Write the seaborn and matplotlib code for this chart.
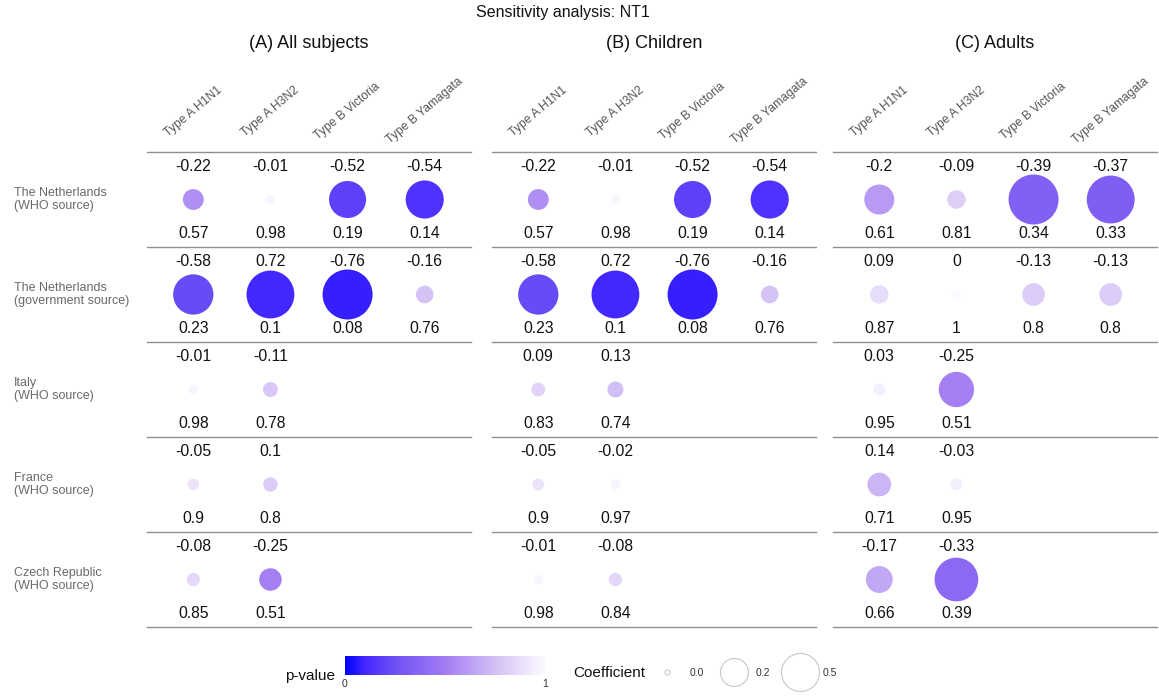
import numpy as np
import pandas as pd
import matplotlib
matplotlib.use("Agg")
import matplotlib.pyplot as plt
import seaborn as sns
from matplotlib.colors import LinearSegmentedColormap, Normalize
from matplotlib.cm import ScalarMappable
from matplotlib.lines import Line2D

# data
countries = ["The Netherlands\n(WHO source)", "The Netherlands\n(government source)",
             "Italy\n(WHO source)", "France\n(WHO source)", "Czech Republic\n(WHO source)"]
virus_types = ["Type A H1N1", "Type A H3N2", "Type B Victoria", "Type B Yamagata"]
panel_titles = ["(A) All subjects", "(B) Children", "(C) Adults"]

nan = np.nan
coef_all = [[-0.22, -0.01, -0.52, -0.54],
            [-0.58, 0.72, -0.76, -0.16],
            [-0.01, -0.11, nan, nan],
            [-0.05, 0.1, nan, nan],
            [-0.08, -0.25, nan, nan]]
p_all = [[0.57, 0.98, 0.19, 0.14],
         [0.23, 0.1, 0.08, 0.76],
         [0.98, 0.78, nan, nan],
         [0.9, 0.8, nan, nan],
         [0.85, 0.51, nan, nan]]

coef_children = [[-0.22, -0.01, -0.52, -0.54],
                 [-0.58, 0.72, -0.76, -0.16],
                 [0.09, 0.13, nan, nan],
                 [-0.05, -0.02, nan, nan],
                 [-0.01, -0.08, nan, nan]]
p_children = [[0.57, 0.98, 0.19, 0.14],
              [0.23, 0.1, 0.08, 0.76],
              [0.83, 0.74, nan, nan],
              [0.9, 0.97, nan, nan],
              [0.98, 0.84, nan, nan]]

coef_adults = [[-0.2, -0.09, -0.39, -0.37],
               [0.09, 0, -0.13, -0.13],
               [0.03, -0.25, nan, nan],
               [0.14, -0.03, nan, nan],
               [-0.17, -0.33, nan, nan]]
p_adults = [[0.61, 0.81, 0.34, 0.33],
            [0.87, 1, 0.8, 0.8],
            [0.95, 0.51, nan, nan],
            [0.71, 0.95, nan, nan],
            [0.66, 0.39, nan, nan]]

legend_coefs = ["0.0", "0.2", "0.5"]

panels = [(coef_all, p_all), (coef_children, p_children), (coef_adults, p_adults)]

plt.rcParams["font.family"] = ["Liberation Sans", "DejaVu Sans"]

W, H = 1159, 696
fig = plt.figure(figsize=(W / 100, H / 100), dpi=100)

cmap = LinearSegmentedColormap.from_list(
    "pval", [(0, "#0000ff"), (0.1, "#4428ff"), (0.25, "#7050f5"),
             (0.5, "#a27cf2"), (0.75, "#d4c0f6"), (1, "#fcfaff")])


def fmt(v):
    return f"{v:g}"


lefts = [147, 492, 833]
pw, top, bot = 324, 152, 627

for k, (coefs, pvals) in enumerate(panels):
    rows = []
    for i, c in enumerate(countries):
        for j, t in enumerate(virus_types):
            if not np.isnan(coefs[i][j]):
                rows.append({"country": c, "type": t, "xi": j, "yi": i,
                             "coef": coefs[i][j], "p": pvals[i][j],
                             "abs_coef": abs(coefs[i][j])})
    df = pd.DataFrame(rows)
    vmax = df["abs_coef"].max()
    # diameter grows linearly with |coef|, scaled per panel
    size_map = {v: ((9 + 41 * v / vmax) * 0.72) ** 2 for v in df["abs_coef"].unique()}

    ax = fig.add_axes([lefts[k] / W, 1 - bot / H, pw / W, (bot - top) / H])
    sns.scatterplot(data=df, x="xi", y="yi", hue="p", palette=cmap, hue_norm=(0, 1),
                    size="abs_coef", sizes=size_map, linewidth=0, legend=False, ax=ax)
    ax.set_xlim(-0.6, 3.6)
    ax.set_ylim(4.5, -0.5)
    ax.axis("off")

    for yb in np.arange(-0.5, 5, 1):
        ax.axhline(yb, color="#8f8f8f", lw=1.0, clip_on=False)

    for _, r in df.iterrows():
        ax.text(r["xi"], r["yi"] - 0.35, fmt(r["coef"]), ha="center", va="center",
                fontsize=11.3, color="#111111")
        ax.text(r["xi"], r["yi"] + 0.36, fmt(r["p"]), ha="center", va="center",
                fontsize=11.3, color="#111111")

    for j, t in enumerate(virus_types):
        ax.text(j, -0.93, t, rotation=40, ha="center", va="center",
                rotation_mode="anchor", fontsize=8.7, color="#555555")

    fig.text((lefts[k] + pw / 2) / W, 1 - 43 / H, panel_titles[k], ha="center",
             va="center", fontsize=13, color="#111111")

for i, c in enumerate(countries):
    yc = top + (i + 0.5) * (bot - top) / 5
    fig.text(14 / W, 1 - yc / H, c, ha="left", va="center", fontsize=9,
             color="#6a6a6a", linespacing=1.05)

fig.text(563 / W, 1 - 13 / H, "Sensitivity analysis: NT1", ha="center", va="center",
         fontsize=11.5, color="#111111")

# p-value colour bar
cax = fig.add_axes([345 / W, 1 - 675 / H, 200 / W, 19 / H])
cb = fig.colorbar(ScalarMappable(norm=Normalize(0, 1), cmap=cmap), cax=cax,
                  orientation="horizontal")
cb.set_ticks([0, 1])
cb.outline.set_visible(False)
cax.tick_params(length=0, labelsize=7.5, pad=3, colors="#333333")
fig.text(335 / W, 1 - 676 / H, "p-value", ha="right", va="center", fontsize=11,
         color="#111111")

# coefficient size legend
fig.text(573 / W, 1 - 673 / H, "Coefficient", ha="left", va="center", fontsize=11,
         color="#111111")
legend_diam = [5, 28, 38]
handles = [Line2D([], [], marker="o", ls="", markersize=d * 0.72, mfc="white",
                  mec="#c8c8c8", mew=0.8) for d in legend_diam]
fig.legend(handles, legend_coefs, ncol=3, loc="center left",
           bbox_to_anchor=(648 / W, 1 - 673 / H), frameon=False, fontsize=7.5,
           handlelength=3.7, handletextpad=0.3, columnspacing=1.0,
           labelcolor="#333333", borderpad=0, borderaxespad=0)

fig.savefig("out.png", dpi=100)
